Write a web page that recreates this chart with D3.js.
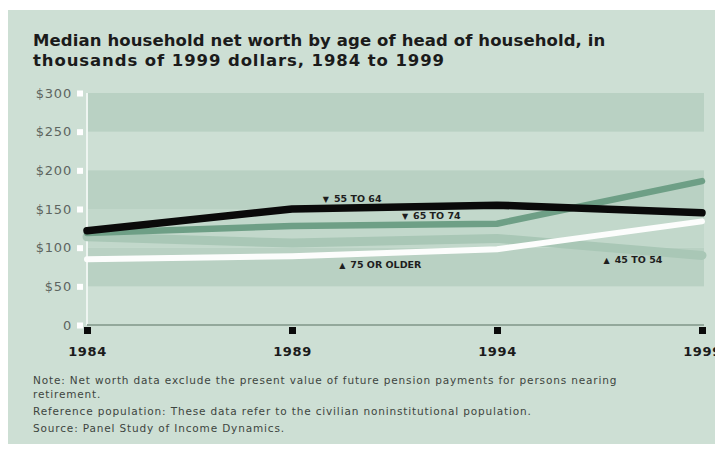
<!DOCTYPE html>
<html>
<head>
<meta charset="utf-8">
<script src="https://cdn.jsdelivr.net/npm/d3@7"></script>
<style>
  html, body { margin: 0; padding: 0; background: #ffffff; }
  svg { display: block; font-family: "DejaVu Sans", "Liberation Sans", Arial, sans-serif; }
</style>
</head>
<body>
<svg id="chart" width="715" height="449"></svg>
<script>
// Survey years on the x axis
const years = [1984, 1989, 1994, 1999];

// Median net worth, thousands of 1999 dollars, by age of head of household
const age45to54 = [114, 106, 112, 90];
const age55to64 = [122, 150, 155, 145];
const age65to74 = [119, 128, 131, 186];
const age75plus = [85, 89, 98, 134];

// Value axis ticks and their labels
const yTicks = [0, 50, 100, 150, 200, 250, 300];
const yTickLabels = ["0", "$50", "$100", "$150", "$200", "$250", "$300"];

// Horizontal shading bands (value ranges)
const bandRanges = [[50, 100], [100, 150], [150, 200], [250, 300]];

// Series labels: text, pointer direction, anchor (year, value)
const labelText = ["55 TO 64", "65 TO 74", "75 OR OLDER", "45 TO 54"];
const labelArrow = ["\u25BC", "\u25BC", "\u25B2", "\u25B2"];
const labelYear = [1989.75, 1991.68, 1990.15, 1996.6];
const labelValue = [163, 142, 78, 84];

const titleLines = [
  "Median household net worth by age of head of household, in",
  "thousands of 1999 dollars, 1984 to 1999"
];
const noteLines = [
  "Note: Net worth data exclude the present value of future pension payments for persons nearing",
  "retirement.",
  "Reference population: These data refer to the civilian noninstitutional population.",
  "Source: Panel Study of Income Dynamics."
];

const svg = d3.select("#chart");

// Panel background
svg.append("rect").attr("x", 8).attr("y", 10).attr("width", 707).attr("height", 434)
  .attr("fill", "#cddfd4");

const x = d3.scaleLinear().domain([1984, 1999]).range([87, 702]);
const y = d3.scaleLinear().domain([0, 300]).range([325, 93]);

// Title
svg.append("g").selectAll("text").data(titleLines).join("text")
  .attr("x", 33).attr("y", (d, i) => 46 + i * 20)
  .attr("font-size", 16.5).attr("font-weight", "bold").attr("fill", "#1b1b1b")
  .attr("letter-spacing", (d, i) => i === 0 ? 0.1 : 0.9)
  .text(d => d);

// Shading bands
svg.append("g").selectAll("rect").data(bandRanges).join("rect")
  .attr("x", x(1984)).attr("width", x(1999) - x(1984) + 2)
  .attr("y", d => y(d[1])).attr("height", d => y(d[0]) - y(d[1]))
  .attr("fill", (d, i) => d[0] === 100 ? "#c2d8cb" : "#b9d1c3");

// Left axis: white rule and white square ticks
svg.append("line").attr("x1", x(1984)).attr("x2", x(1984))
  .attr("y1", y(300)).attr("y2", y(0))
  .attr("stroke", "#eef5f1").attr("stroke-width", 2);

const yAxis = d3.axisLeft(y).tickValues(yTicks)
  .tickFormat((d, i) => yTickLabels[i]).tickSize(0).tickPadding(15);
const yg = svg.append("g").attr("transform", `translate(${x(1984)},0)`).call(yAxis);
yg.select(".domain").remove();
yg.selectAll("text").attr("font-size", 13).attr("fill", "#5d6560")
  .attr("letter-spacing", 0.8)
  .attr("font-family", "DejaVu Sans, Arial, sans-serif");
yg.selectAll(".tick").append("rect")
  .attr("x", -10).attr("y", -3).attr("width", 6).attr("height", 6)
  .attr("fill", "#ffffff");

// Bottom axis: grey base line, black square ticks, bold year labels
svg.append("line").attr("x1", x(1984)).attr("x2", x(1999) + 2)
  .attr("y1", y(0)).attr("y2", y(0))
  .attr("stroke", "#93a89b").attr("stroke-width", 2);

const xAxis = d3.axisBottom(x).tickValues(years).tickFormat(d3.format("d"))
  .tickSize(0).tickPadding(22);
const xg = svg.append("g").attr("transform", `translate(0,${y(0)})`).call(xAxis);
xg.select(".domain").remove();
xg.selectAll("text").attr("font-size", 13).attr("font-weight", "bold")
  .attr("letter-spacing", 0.6)
  .attr("fill", "#1b1b1b").attr("font-family", "DejaVu Sans, Arial, sans-serif");
xg.selectAll(".tick").append("rect")
  .attr("x", -3.5).attr("y", 2).attr("width", 7).attr("height", 7)
  .attr("fill", "#0b0b0b");

// Series lines
const line = d3.line().x((d, i) => x(years[i])).y(d => y(d));
const series = [
  { values: age45to54, color: "#a9c7b6", width: 9 },
  { values: age75plus, color: "#fcfdfc", width: 6 },
  { values: age65to74, color: "#6e9f86", width: 6.5 },
  { values: age55to64, color: "#0a0a0a", width: 7.5 }
];
svg.append("g").selectAll("path").data(series).join("path")
  .attr("d", d => line(d.values))
  .attr("fill", "none").attr("stroke", d => d.color)
  .attr("stroke-width", d => d.width)
  .attr("stroke-linecap", "round").attr("stroke-linejoin", "round");

// Series labels with pointer triangles
const labels = svg.append("g").selectAll("text").data(labelText).join("text")
  .attr("x", (d, i) => x(labelYear[i])).attr("y", (d, i) => y(labelValue[i]))
  .attr("dy", "0.35em").attr("font-size", 9.5).attr("font-weight", "bold")
  .attr("fill", "#1e1e1e");
labels.append("tspan").attr("font-size", 8).text((d, i) => labelArrow[i]);
labels.append("tspan").attr("dx", 5).text(d => d);

// Footnotes
svg.append("g").selectAll("text").data(noteLines).join("text")
  .attr("x", 33).attr("y", (d, i) => [384, 398, 415, 432][i])
  .attr("font-size", 10.5).attr("fill", "#3d4540")
  .attr("letter-spacing", 0.85)
  .text(d => d);
</script>
</body>
</html>
